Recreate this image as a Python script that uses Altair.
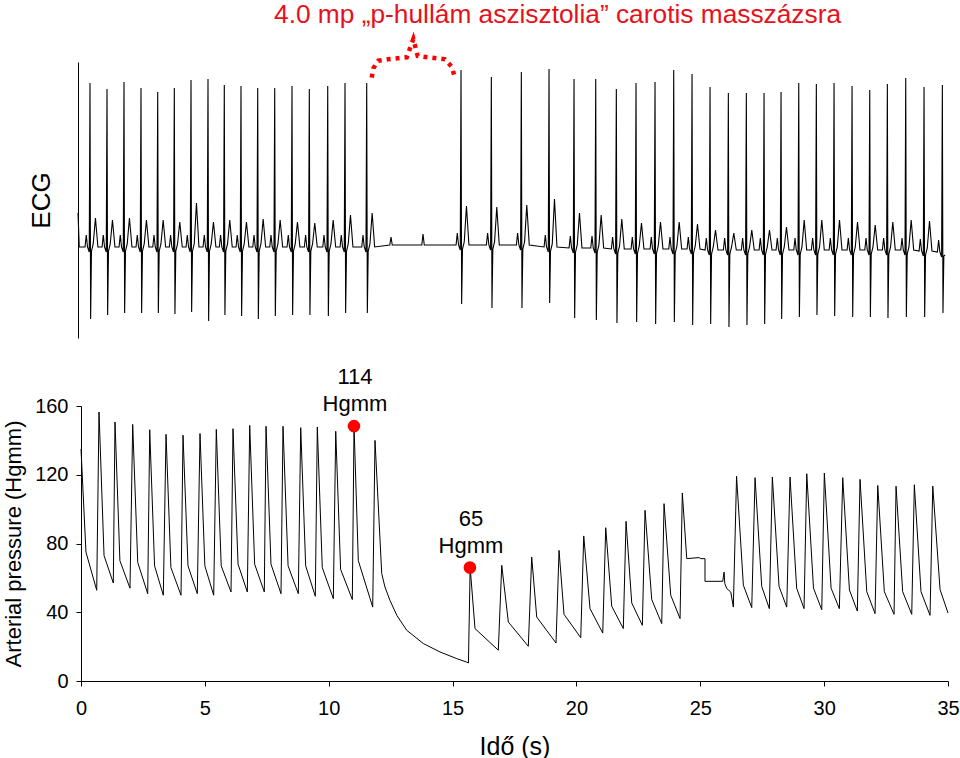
import altair as alt
import pandas as pd

# ---------------- axis ticks ----------------
x_ticks = [0, 5, 10, 15, 20, 25, 30, 35]
y_ticks = [0, 40, 80, 120, 160]

# ---------------- arterial pressure key points (time s, Hgmm) ----------------
peak_t = [0.0, 0.727, 1.373, 2.087, 2.774, 3.432, 4.118, 4.804, 5.462, 6.136, 6.811, 7.469,
          8.155, 8.870, 9.540, 10.283, 11.022, 11.869,
          15.71, 16.985, 18.195, 19.298, 20.295, 21.183, 22.003, 22.770, 23.537, 24.275,
          26.465, 27.211, 27.909, 28.623, 29.298, 30.008, 30.751, 31.449, 32.164, 32.903, 33.641, 34.385]
peak_v = [135, 156.5, 150.7, 149.3, 146.2, 143.5, 143, 144, 146.4, 146.8, 148.7, 148.2,
          148.2, 147.4, 147.8, 145.3, 148.4, 140,
          66, 67.3, 72.1, 76, 84.4, 89.2, 92.9, 99.3, 103.2, 109.4,
          119.1, 118.3, 118.7, 118.7, 120.6, 121, 118.3, 117.3, 113.8, 113.3, 114.2, 113.4]
notch_t = [0.20, 0.93, 1.57, 2.29, 2.97, 3.63, 4.32, 5.00, 5.66, 6.34, 7.01, 7.67,
           8.36, 9.07, 9.74, 10.48, 11.195, 12.14,
           15.906, 17.252, 18.397, 19.499, 20.549, 21.425, 22.233, 23.040, 23.807, 24.453,
           26.739, 27.48, 28.18, 28.89, 29.57, 30.28, 31.02, 31.72, 32.43, 33.17, 33.91, 34.679]
notch_v = [75, 73, 70, 69, 67, 66, 67, 67, 67, 68, 68, 68,
           67, 67, 66, 65, 70, 62.5,
           30.5, 34.3, 37.2, 38.8, 42.1, 43.5, 45.4, 47.4, 49.9, 71.2,
           55.7, 55, 55, 54, 54, 54, 53, 52, 52, 52, 52, 53.2]
trough_t = [0.634, 1.304, 1.978, 2.693, 3.323, 4.037, 4.695, 5.357, 6.056, 6.714, 7.400, 8.074,
            8.773, 9.459, 10.186, 10.953, 11.776,
            15.64, 16.847, 18.058, 19.176, 20.174, 21.062, 21.893, 22.661, 23.444, 24.183,
            26.334, 27.077, 27.788, 28.490, 29.189, 29.904, 30.614, 31.340, 32.055, 32.822,
            33.536, 34.275, 35.0]
trough_v = [52.8, 57, 54, 50.8, 49.9, 49.9, 50.8, 49.9, 51.8, 51.8, 51.8, 50.8,
            50.8, 49.3, 47.9, 47.4, 43,
            10.5, 17.9, 20.2, 22.1, 25.2, 27.9, 30.5, 32.4, 33.4, 36.3,
            43, 42.7, 42.1, 43, 42.1, 41.5, 42.1, 40.7, 39.2, 38.8,
            38.8, 38.2, 39.6]
# slow decay during the asystole
decay_t = [12.27, 12.47, 12.75, 13.15, 13.82, 14.49, 15.17, 15.57]
decay_v = [54.7, 47, 38.2, 29.5, 21.8, 16.9, 13, 11]
# recording artefact around 25 s
artef_t = [24.95, 25.02, 25.19, 25.19, 25.906, 25.96, 25.99, 26.068, 26.23]
artef_v = [71.8, 71.2, 71.2, 58, 58, 63.4, 56.7, 53.8, 51.8]

# annotated points
mark_t = [11.02, 15.70]
mark_v = [148.3, 66]
mark_lbl = ["114\nHgmm", "65\nHgmm"]

# ---------------- ECG (time s, mV-like units) ----------------
r_t = [0.363, 1.050, 1.736, 2.422, 3.097, 3.767, 4.441, 5.127, 5.785, 6.459, 7.134, 7.820,
       8.518, 9.217, 9.960, 10.658, 11.534,
       15.341, 16.565, 17.776, 18.894, 19.903, 20.779, 21.611, 22.406, 23.173, 23.928,
       24.667, 25.394, 26.133, 26.859, 27.574, 28.260, 28.975, 29.685, 30.400, 31.127,
       31.841, 32.552, 33.294, 34.033, 34.772]
r_v = [1.64, 1.58, 1.65, 1.59, 1.55, 1.59, 1.67, 1.68, 1.62, 1.61, 1.59, 1.59, 1.61, 1.58,
       1.61, 1.64, 1.64,
       1.77, 1.70, 1.75, 1.78, 1.68, 1.68, 1.58, 1.64, 1.65, 1.77, 1.73, 1.60, 1.54, 1.54,
       1.54, 1.55, 1.64, 1.63, 1.64, 1.61, 1.57, 1.63, 1.69, 1.60, 1.62]
s_v = [-0.72, -0.68, -0.66, -0.66, -0.66, -0.67, -0.65, -0.74, -0.68, -0.69, -0.72, -0.69,
       -0.68, -0.68, -0.69, -0.66, -0.66,
       -0.57, -0.61, -0.61, -0.56, -0.71, -0.73, -0.76, -0.75, -0.77, -0.75, -0.78, -0.77,
       -0.80, -0.78, -0.77, -0.72, -0.70, -0.68, -0.69, -0.70, -0.70, -0.71, -0.70, -0.70, -0.66]
t_v = [0.29, 0.27, 0.29, 0.27, 0.27, 0.25, 0.44, 0.25, 0.27, 0.25, 0.28, 0.27, 0.25, 0.24,
       0.27, 0.32, 0.34,
       0.39, 0.38, 0.40, 0.48, 0.35, 0.33, 0.30, 0.26, 0.27, 0.27, 0.25, 0.20, 0.17, 0.20,
       0.20, 0.23, 0.30, 0.30, 0.30, 0.28, 0.25, 0.28, 0.30, 0.30, 0.25]
base_v = [0.0] * 17 + [0.02, 0.02, 0.02, 0.0, -0.01, -0.01, -0.02, -0.02, -0.02, -0.02,
                       -0.02, -0.03, -0.03, -0.03, -0.03, -0.03, -0.03, -0.03, -0.03, -0.03,
                       -0.03, -0.03, -0.03, -0.04, -0.05]
p_height = 0.12
pause_p_t = [12.515, 13.807]
pause_p_v = [0.10, 0.13]
ecg_start_t = [-0.121, -0.07]
ecg_start_v = [0.34, 0.0]
ecg_end_t = 34.88
ecg_end_v = -0.08

# bracket over the 4 s pause (time s, ECG units)
brace_t = [11.736, 11.809, 12.003, 12.394, 13.149, 13.415, 13.593, 14.695, 14.966, 15.071]
brace_v = [1.693, 1.79, 1.863, 1.877, 1.897, 2.08, 1.91, 1.877, 1.803, 1.713]

TITLE = "4.0 mp \u201ep-hull\u00e1m aszisztolia\u201d carotis massz\u00e1zsra"
FONT = "Liberation Sans"
RED = "#e8101a"

# ---------------- build tables ----------------
p_pts = (list(zip(peak_t, peak_v)) + list(zip(notch_t, notch_v)) + list(zip(trough_t, trough_v))
         + list(zip(decay_t, decay_v)) + list(zip(artef_t, artef_v)))
p_pts = sorted(p_pts, key=lambda p: p[0])
pressure = pd.DataFrame({"t": [p[0] for p in p_pts], "v": [p[1] for p in p_pts],
                         "o": list(range(len(p_pts)))})

e_pts = list(zip(ecg_start_t, ecg_start_v))
for i, tr in enumerate(r_t):
    b = base_v[i]
    e_pts += [(tr - 0.20, b), (tr - 0.15, b + p_height), (tr - 0.10, b), (tr - 0.03, b - 0.05),
              (tr, r_v[i]), (tr + 0.025, s_v[i]), (tr + 0.06, b - 0.04), (tr + 0.13, b + 0.03),
              (tr + 0.22, b + t_v[i]), (tr + 0.32, b)]
for tp, vp in zip(pause_p_t, pause_p_v):
    e_pts += [(tp - 0.05, 0.02), (tp, vp), (tp + 0.05, 0.02)]
e_pts = [p for p in e_pts if p[0] <= ecg_end_t - 0.02] + [(ecg_end_t, ecg_end_v)]
e_pts = sorted(e_pts, key=lambda p: p[0])
ecg = pd.DataFrame({"t": [p[0] for p in e_pts], "v": [p[1] for p in e_pts],
                    "o": list(range(len(e_pts)))})

brace = pd.DataFrame({"t": brace_t, "v": brace_v, "o": list(range(len(brace_t)))})
marks = pd.DataFrame({"t": mark_t, "v": mark_v, "lbl": mark_lbl})

# ---------------- encodings ----------------
x_axis = alt.Axis(values=x_ticks, title="Id\u0151 (s)", tickSize=5, labelPadding=12,
                  labelFontSize=20, titleFontSize=25, titlePadding=16, grid=False,
                  labelFlush=False)
X = alt.X("t:Q", scale=alt.Scale(domain=[0, 35], nice=False, zero=False), axis=x_axis)

p_axis = alt.Axis(values=y_ticks, title="Arterial pressure (Hgmm)", orient="left", tickSize=5,
                  labelPadding=8, labelFontSize=20, titleFontSize=22, titlePadding=9, grid=False,
                  labelFlush=False)
YP = alt.Y("v:Q", scale=alt.Scale(domain=[0, 160], range=[619, 344], nice=False, zero=False),
           axis=p_axis)

e_axis = alt.Axis(title="ECG", orient="left", ticks=False, labels=False, grid=False, offset=3,
                  titleFontSize=26, titlePadding=24)
YE = alt.Y("v:Q", scale=alt.Scale(domain=[-0.91, 1.85], range=[276, 0], nice=False, zero=False),
           axis=e_axis)

p_line = alt.Chart(pressure).mark_line(color="black", strokeWidth=1).encode(x=X, y=YP, order="o:Q")
p_dots = alt.Chart(marks).mark_circle(size=160, color="#ff0000", opacity=1).encode(x=X, y=YP)
p_text = alt.Chart(marks).mark_text(font=FONT, fontSize=22, lineBreak="\n", lineHeight=27,
                                    dy=-49, dx=1, align="center", color="black").encode(
    x=X, y=YP, text="lbl:N")
pressure_layer = alt.layer(p_line, p_dots, p_text)

e_line = alt.Chart(ecg).mark_line(color="black", strokeWidth=1.1).encode(x=X, y=YE, order="o:Q")
e_brace = alt.Chart(brace).mark_line(color="#ff0000", strokeWidth=4.5, strokeDash=[4, 5],
                                     strokeCap="butt").encode(x=X, y=YE, order="o:Q")
ecg_layer = alt.layer(e_line, e_brace)

chart = alt.layer(pressure_layer, ecg_layer).resolve_scale(y="independent").properties(
    width=867, height=619,
    title=alt.TitleParams(TITLE, color=RED, fontSize=26.3, font=FONT, fontWeight="normal",
                          anchor="start", frame="group", dx=193, offset=2),
    autosize=alt.AutoSizeParams(type="none"),
    padding={"left": 81, "top": 62, "right": 12, "bottom": 77},
).configure_view(stroke=None).configure_axis(
    labelFont=FONT, titleFont=FONT, labelColor="black", titleColor="black",
    domainColor="black", tickColor="black", titleFontWeight="normal"
)

chart.save("out.html", embed_options={"renderer": "svg", "actions": False})
